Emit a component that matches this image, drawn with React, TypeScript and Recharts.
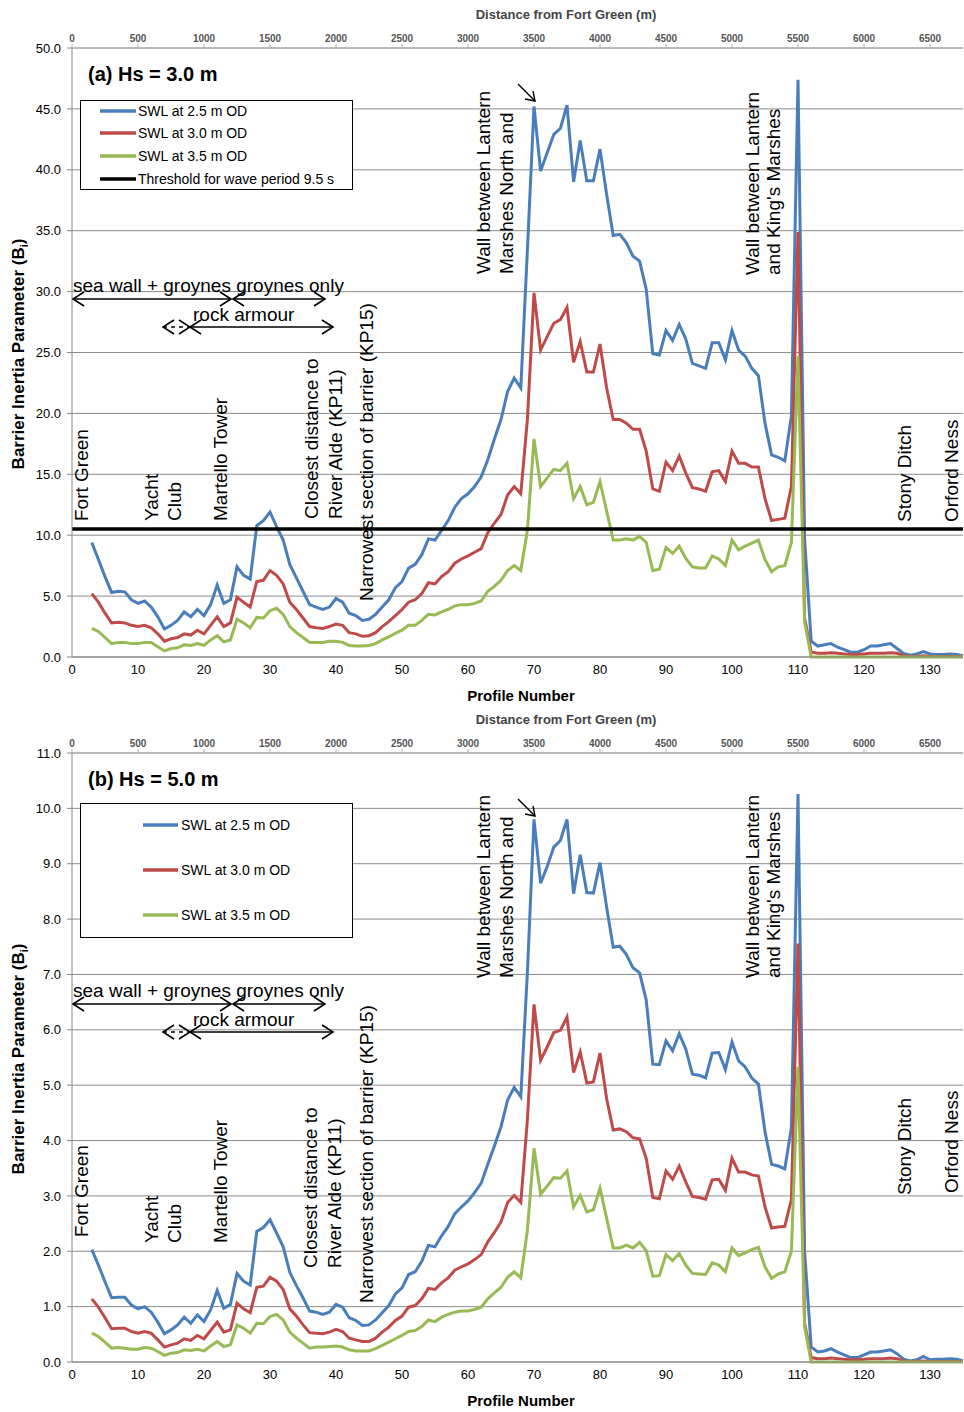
import React from "react";
import {
  LineChart,
  Line,
  XAxis,
  YAxis,
  CartesianGrid,
  ReferenceLine,
  Legend,
} from "recharts";

const FONT = '"Liberation Sans", Arial, Helvetica, sans-serif';

// profile numbers 3..135 along the frontage
const profiles = Array.from({ length: 133 }, (_, i) => i + 3);

const xTicks = [0, 10, 20, 30, 40, 50, 60, 70, 80, 90, 100, 110, 120, 130];
const yTicksA = [0, 5, 10, 15, 20, 25, 30, 35, 40, 45, 50];
const yTicksB = [0, 1, 2, 3, 4, 5, 6, 7, 8, 9, 10, 11];

const seriesNames = ["SWL at 2.5 m OD", "SWL at 3.0 m OD", "SWL at 3.5 m OD"];
const seriesColors = ["#4a7ebb", "#be4b48", "#98b954"];
const thresholdName = "Threshold for wave period 9.5 s";
const thresholdA = 10.5;

// (a) Hs = 3.0 m
const hs3Swl25 = [
  9.4, 8.0, 6.6, 5.3, 5.4, 5.35, 4.7, 4.4, 4.6, 4.1,
  3.3, 2.3, 2.6, 3.0, 3.7, 3.3, 3.9, 3.4, 4.3, 5.9,
  4.4, 4.7, 7.4, 6.7, 6.4, 10.8, 11.2, 11.9, 10.7, 9.6,
  7.6, 6.5, 5.4, 4.3, 4.1, 3.9, 4.1, 4.8, 4.5, 3.6,
  3.4, 3.0, 3.1, 3.5, 4.1, 4.7, 5.7, 6.2, 7.3, 7.6,
  8.4, 9.7, 9.6, 10.4, 11.2, 12.3, 13.0, 13.4, 14.0, 14.8,
  16.2, 17.9, 19.5, 21.8, 22.9, 22.1, 33.4, 45.2, 39.9, 41.4,
  42.9, 43.4, 45.3, 39.0, 42.4, 39.1, 39.1, 41.7, 38.0, 34.6,
  34.7, 34.0, 32.9, 32.5, 30.2, 24.9, 24.8, 26.8, 26.0, 27.3,
  26.1, 24.1, 23.9, 23.7, 25.8, 25.8, 24.4, 26.8, 25.2, 24.7,
  23.7, 23.1, 19.2, 16.6, 16.4, 16.1, 19.8, 47.4, 9.7, 1.3,
  0.9, 1.0, 1.1, 0.8, 0.6, 0.4, 0.4, 0.6, 0.9, 0.9,
  1.0, 1.1, 0.7, 0.3, 0.15, 0.25, 0.45, 0.25, 0.2, 0.2,
  0.25, 0.2, 0.1,
];
const hs3Swl30 = [
  5.2, 4.5, 3.6, 2.8, 2.85, 2.8, 2.6, 2.5, 2.6, 2.4,
  1.9, 1.3, 1.5, 1.6, 1.9, 1.8, 2.2, 1.9, 2.6, 3.3,
  2.5, 2.8, 4.9, 4.5, 4.1, 6.2, 6.3, 7.1, 6.7, 6.0,
  4.5, 3.9, 3.2, 2.5, 2.4, 2.35, 2.5, 2.7, 2.6, 2.0,
  1.9, 1.7, 1.75, 2.0, 2.5, 2.9, 3.4, 3.9, 4.5, 4.7,
  5.2, 6.1, 6.0, 6.6, 7.0, 7.7, 8.05, 8.3, 8.6, 8.9,
  10.2, 11.0, 11.7, 13.3, 14.0, 13.4, 19.5, 29.9, 25.2, 26.3,
  27.4, 27.7, 28.7, 24.2, 25.9, 23.4, 23.4, 25.7, 22.1, 19.5,
  19.5, 19.2, 18.7, 18.7, 16.9, 13.8, 13.6, 16.0, 15.3, 16.5,
  15.1, 13.9, 13.8, 13.6, 15.2, 15.3, 14.4, 16.9, 15.9, 15.9,
  15.6, 15.6, 13.0, 11.2, 11.3, 11.4, 14.0, 34.9, 3.2, 0.4,
  0.3, 0.3, 0.35, 0.3, 0.25, 0.2, 0.2, 0.25, 0.3, 0.3,
  0.3, 0.35, 0.3, 0.1, 0.05, 0.05, 0.1, 0.05, 0.05, 0.05,
  0.05, 0.05, 0.03,
];
const hs3Swl35 = [
  2.35, 2.1, 1.6, 1.1, 1.2, 1.2, 1.1, 1.1, 1.2, 1.2,
  0.85, 0.5, 0.7, 0.75, 1.0, 0.95, 1.1, 0.95, 1.4, 1.75,
  1.25, 1.4, 3.1, 2.8, 2.4, 3.25, 3.2, 3.8, 4.0, 3.5,
  2.5, 2.0, 1.6, 1.2, 1.2, 1.2, 1.3, 1.3, 1.2, 0.95,
  0.9, 0.9, 0.95, 1.1, 1.4, 1.65, 1.95, 2.2, 2.6, 2.6,
  3.0, 3.5, 3.45, 3.7, 3.9, 4.2, 4.3, 4.3, 4.4, 4.6,
  5.4, 5.8, 6.3, 7.1, 7.5, 7.1, 10.4, 17.9, 14.0, 14.7,
  15.4, 15.3, 15.9, 13.0, 14.0, 12.5, 12.7, 14.4, 12.0, 9.6,
  9.6, 9.7, 9.6, 9.9, 9.4, 7.1, 7.2, 9.0, 8.5, 9.1,
  8.1, 7.4, 7.3, 7.3, 8.3, 8.05, 7.5, 9.6, 8.8, 9.1,
  9.35, 9.6, 8.0, 7.0, 7.4, 7.5, 9.4, 24.7, 2.9, 0,
  0, 0, 0, 0, 0, 0, 0, 0, 0, 0,
  0, 0, 0, 0, 0, 0, 0, 0, 0, 0,
  0, 0, 0,
];

// (b) Hs = 5.0 m
const hs5Swl25 = [
  2.03, 1.75, 1.45, 1.16, 1.17, 1.17, 1.03, 0.96, 1.0, 0.9,
  0.72, 0.51, 0.58, 0.67, 0.81, 0.7, 0.85, 0.73, 0.94, 1.29,
  0.97, 1.04, 1.6, 1.46, 1.39, 2.36, 2.43, 2.57, 2.33, 2.08,
  1.62, 1.38, 1.16, 0.92, 0.9, 0.86, 0.9, 1.04, 0.99, 0.8,
  0.75, 0.66, 0.67, 0.76, 0.89, 1.02, 1.23, 1.34, 1.58, 1.63,
  1.82, 2.11, 2.08, 2.28, 2.45, 2.68, 2.8, 2.91, 3.06, 3.23,
  3.57, 3.9, 4.25, 4.73, 4.96, 4.79, 7.04, 9.8, 8.65, 8.95,
  9.3, 9.42, 9.8, 8.46, 9.16, 8.48, 8.47, 9.02, 8.22, 7.49,
  7.51, 7.36, 7.12, 7.03, 6.54, 5.38, 5.37, 5.8, 5.62, 5.93,
  5.65, 5.2, 5.18, 5.13, 5.58, 5.59, 5.28, 5.78, 5.44, 5.33,
  5.13, 5.02, 4.16, 3.57, 3.54, 3.49, 4.23, 10.26, 2.0, 0.27,
  0.18, 0.2, 0.24, 0.18, 0.13, 0.08, 0.08, 0.13, 0.18, 0.18,
  0.2, 0.22, 0.15, 0.05, 0.02, 0.04, 0.1, 0.04, 0.05, 0.05,
  0.06, 0.05, 0.02,
];
const hs5Swl30 = [
  1.14, 0.99, 0.8, 0.6, 0.61, 0.61, 0.55, 0.52, 0.55, 0.52,
  0.4, 0.27, 0.31, 0.34, 0.42, 0.39, 0.48, 0.42, 0.57, 0.72,
  0.54, 0.58, 1.06, 0.96, 0.89, 1.35, 1.37, 1.53, 1.46, 1.31,
  0.96, 0.83, 0.67, 0.53, 0.52, 0.51, 0.54, 0.59, 0.55, 0.43,
  0.4, 0.37, 0.37, 0.43, 0.54, 0.63, 0.75, 0.83, 0.99, 1.02,
  1.14, 1.33, 1.31, 1.43, 1.52, 1.66, 1.72, 1.77, 1.85, 1.94,
  2.17, 2.34, 2.53, 2.88, 3.01, 2.88, 4.38, 6.46, 5.45, 5.69,
  5.95, 5.99, 6.23, 5.23, 5.6, 5.04, 5.06, 5.58, 4.76, 4.19,
  4.21, 4.16, 4.05, 4.03, 3.68, 2.97, 2.95, 3.45, 3.3, 3.54,
  3.25, 2.99, 2.97, 2.94, 3.29, 3.3, 3.1, 3.68, 3.43, 3.43,
  3.38, 3.36, 2.8, 2.42, 2.44, 2.45, 2.94, 7.56, 0.7, 0.08,
  0.06, 0.06, 0.07, 0.06, 0.05, 0.04, 0.04, 0.05, 0.06, 0.06,
  0.06, 0.07, 0.06, 0.02, 0.01, 0.01, 0.02, 0.01, 0.01, 0.01,
  0.01, 0.01, 0.01,
];
const hs5Swl35 = [
  0.52, 0.46, 0.36, 0.25, 0.26, 0.25, 0.23, 0.23, 0.26, 0.25,
  0.19, 0.12, 0.16, 0.17, 0.22, 0.21, 0.23, 0.2, 0.29, 0.37,
  0.28, 0.31, 0.67, 0.61, 0.52, 0.7, 0.69, 0.82, 0.86, 0.76,
  0.54, 0.43, 0.34, 0.25, 0.27, 0.27, 0.28, 0.29, 0.27, 0.22,
  0.2, 0.2, 0.2, 0.24, 0.3, 0.36, 0.42, 0.48, 0.55, 0.57,
  0.64, 0.76, 0.73, 0.81, 0.86, 0.9, 0.92, 0.92, 0.95, 0.99,
  1.14, 1.25, 1.35, 1.53, 1.63, 1.52, 2.38, 3.86, 3.03, 3.18,
  3.33, 3.32, 3.45, 2.8, 3.01, 2.71, 2.75, 3.14, 2.6, 2.06,
  2.06, 2.11, 2.06, 2.16, 2.01, 1.55, 1.56, 1.94, 1.83, 1.96,
  1.75, 1.6, 1.59, 1.58, 1.79, 1.75, 1.63, 2.06, 1.92, 1.97,
  2.03, 2.07, 1.72, 1.51, 1.59, 1.63, 2.0, 5.33, 0.64, 0,
  0, 0, 0, 0, 0, 0, 0, 0, 0, 0,
  0, 0, 0, 0, 0, 0, 0, 0, 0, 0,
  0, 0, 0,
];

const keys = ["swl25", "swl30", "swl35"];

function buildRows(s25: number[], s30: number[], s35: number[]) {
  return profiles.map((p, i) => ({ p, swl25: s25[i], swl30: s30[i], swl35: s35[i] }));
}

const dataA = buildRows(hs3Swl25, hs3Swl30, hs3Swl35);
const dataB = buildRows(hs5Swl25, hs5Swl30, hs5Swl35);

type Note = { x: number; y: number; t: string };

const notesA: Note[] = [
  { x: 88, y: 521, t: "Fort Green" },
  { x: 158, y: 521, t: "Yacht" },
  { x: 181, y: 521, t: "Club" },
  { x: 227, y: 521, t: "Martello Tower" },
  { x: 318, y: 519, t: "Closest distance to" },
  { x: 342, y: 519, t: "River Alde (KP11)" },
  { x: 373, y: 601, t: "Narrowest section of barrier (KP15)" },
  { x: 490, y: 274, t: "Wall between Lantern" },
  { x: 513, y: 274, t: "Marshes North and" },
  { x: 759, y: 275, t: "Wall between Lantern" },
  { x: 780, y: 275, t: "and King's Marshes" },
  { x: 911, y: 522, t: "Stony Ditch" },
  { x: 958, y: 522, t: "Orford Ness" },
];

const notesB: Note[] = [
  { x: 88, y: 532, t: "Fort Green" },
  { x: 158, y: 538, t: "Yacht" },
  { x: 181, y: 538, t: "Club" },
  { x: 227, y: 538, t: "Martello Tower" },
  { x: 317, y: 563, t: "Closest distance to" },
  { x: 341, y: 563, t: "River Alde (KP11)" },
  { x: 373, y: 598, t: "Narrowest section of barrier (KP15)" },
  { x: 490, y: 273, t: "Wall between Lantern" },
  { x: 513, y: 273, t: "Marshes North and" },
  { x: 759, y: 273, t: "Wall between Lantern" },
  { x: 780, y: 273, t: "and King's Marshes" },
  { x: 911, y: 490, t: "Stony Ditch" },
  { x: 958, y: 488, t: "Orford Ness" },
];

type LegendRow = { name: string; color: string; y: number };
type LegendBoxCfg = {
  left: number;
  top: number;
  w: number;
  h: number;
  x1: number;
  x2: number;
  tx: number;
  rows: LegendRow[];
};

const legendA: LegendBoxCfg = {
  left: 80, top: 100, w: 273, h: 90, x1: 20, x2: 56, tx: 58,
  rows: [
    { name: seriesNames[0], color: seriesColors[0], y: 11 },
    { name: seriesNames[1], color: seriesColors[1], y: 33 },
    { name: seriesNames[2], color: seriesColors[2], y: 56 },
    { name: thresholdName, color: "#000", y: 79 },
  ],
};

const legendB: LegendBoxCfg = {
  left: 80, top: 98, w: 273, h: 135, x1: 63, x2: 98, tx: 101,
  rows: [
    { name: seriesNames[0], color: seriesColors[0], y: 22 },
    { name: seriesNames[1], color: seriesColors[1], y: 67 },
    { name: seriesNames[2], color: seriesColors[2], y: 112 },
  ],
};

function LegendBox({ cfg }: { cfg: LegendBoxCfg }) {
  return (
    <svg width={cfg.w} height={cfg.h} style={{ display: "block", fontFamily: FONT }}>
      <rect x={0.5} y={0.5} width={cfg.w - 1} height={cfg.h - 1} fill="#fff" stroke="#000" />
      {cfg.rows.map((r) => (
        <g key={r.name}>
          <line x1={cfg.x1} x2={cfg.x2} y1={r.y} y2={r.y} stroke={r.color} strokeWidth={3.5} />
          <text x={cfg.tx} y={r.y + 5} fontSize={14} fill="#000">
            {r.name}
          </text>
        </g>
      ))}
    </svg>
  );
}

function Chevron({ x, y, dir }: { x: number; y: number; dir: number }) {
  return (
    <polyline
      points={`${x - dir * 11},${y - 7} ${x},${y} ${x - dir * 11},${y + 7}`}
      fill="none"
      stroke="#000"
      strokeWidth={1.6}
    />
  );
}

function DoubleArrow({ x1, x2, y, dashed }: { x1: number; x2: number; y: number; dashed?: boolean }) {
  return (
    <g>
      <line x1={x1} x2={x2} y1={y} y2={y} stroke="#000" strokeWidth={1.6} strokeDasharray={dashed ? "4 4" : undefined} />
      <Chevron x={x1} y={y} dir={-1} />
      <Chevron x={x2} y={y} dir={1} />
    </g>
  );
}

function Overlay({ title, notes, arrowY }: { title: string; notes: Note[]; arrowY: number }) {
  return (
    <svg
      width={964}
      height={704}
      style={{ position: "absolute", left: 0, top: 0, pointerEvents: "none", fontFamily: FONT }}
    >
      <text x={566} y={19} textAnchor="middle" fontSize={13} fontWeight="bold" fill="#444">
        Distance from Fort Green (m)
      </text>
      <text x={88} y={81} fontSize={20} fontWeight="bold" fill="#000">
        {title}
      </text>
      <text transform="translate(24,354) rotate(-90)" textAnchor="middle" fontSize={17} fontWeight="bold" fill="#000">
        Barrier Inertia Parameter (B
        <tspan dy={4} fontSize={11}>i</tspan>
        <tspan dy={-4}>)</tspan>
      </text>
      <text x={521} y={701} textAnchor="middle" fontSize={15} fontWeight="bold" fill="#000">
        Profile Number
      </text>

      <text x={73} y={292} fontSize={19} fill="#000">
        sea wall + groynes groynes only
      </text>
      <DoubleArrow x1={73} x2={231} y={299} />
      <DoubleArrow x1={233} x2={325} y={299} />
      <text x={193} y={321} fontSize={19} fill="#000">
        rock armour
      </text>
      <DoubleArrow x1={163} x2={190} y={327} dashed />
      <DoubleArrow x1={190} x2={333} y={327} />

      {notes.map((n, i) => (
        <text key={i} transform={`translate(${n.x},${n.y}) rotate(-90)`} fontSize={19} fill="#000">
          {n.t}
        </text>
      ))}

      <line x1={518} y1={arrowY} x2={535} y2={arrowY + 17} stroke="#000" strokeWidth={1.4} />
      <polyline
        points={`${533},${arrowY + 7} ${535},${arrowY + 17} ${525},${arrowY + 15}`}
        fill="none"
        stroke="#000"
        strokeWidth={1.4}
      />
    </svg>
  );
}

type PanelProps = {
  top: number;
  data: typeof dataA;
  yMax: number;
  yTicks: number[];
  title: string;
  threshold?: number;
  legend: LegendBoxCfg;
  notes: Note[];
  arrowY: number;
};

function Panel({ top, data, yMax, yTicks, title, threshold, legend, notes, arrowY }: PanelProps) {
  return (
    <div style={{ position: "absolute", left: 0, top, width: 964, height: 704 }}>
      <LineChart width={964} height={704} data={data} margin={{ top: 0, right: 1, bottom: 0, left: 0 }}>
        <CartesianGrid vertical={false} stroke="#8c8c8c" />
        <XAxis
          dataKey="p"
          type="number"
          domain={[0, 135]}
          allowDataOverflow
          ticks={xTicks}
          height={47}
          tickLine={false}
          axisLine={{ stroke: "#868686" }}
          tick={{ fontSize: 13, fill: "#000" }}
        />
        <XAxis
          xAxisId="top"
          orientation="top"
          type="number"
          dataKey="p"
          domain={[0, 135]}
          allowDataOverflow
          ticks={xTicks}
          height={48}
          tickSize={4}
          tickLine={{ stroke: "#b0b0b0" }}
          axisLine={{ stroke: "#b0b0b0" }}
          tickFormatter={(v: number) => String(v * 50)}
          tick={{ fontSize: 10, fill: "#555", fontWeight: "bold" }}
        />
        <YAxis
          type="number"
          domain={[0, yMax]}
          ticks={yTicks}
          width={72}
          tickSize={5}
          tickMargin={6}
          tickLine={{ stroke: "#868686" }}
          axisLine={{ stroke: "#868686" }}
          tickFormatter={(v: number) => v.toFixed(1)}
          tick={{ fontSize: 13, fill: "#000" }}
        />
        <Legend
          layout="vertical"
          verticalAlign="middle"
          align="center"
          content={() => <LegendBox cfg={legend} />}
          wrapperStyle={{ left: legend.left, top: legend.top, width: legend.w, height: legend.h }}
        />
        {keys.map((k, i) => (
          <Line
            key={k}
            type="linear"
            dataKey={k}
            name={seriesNames[i]}
            stroke={seriesColors[i]}
            strokeWidth={3}
            dot={false}
            isAnimationActive={false}
          />
        ))}
        {threshold !== undefined && (
          <ReferenceLine y={threshold} stroke="#000" strokeWidth={3.5} ifOverflow="extendDomain" />
        )}
      </LineChart>
      <Overlay title={title} notes={notes} arrowY={arrowY} />
    </div>
  );
}

export default function App() {
  return (
    <div
      style={{
        position: "absolute",
        left: 0,
        top: 0,
        width: 964,
        height: 1412,
        background: "#fff",
        fontFamily: FONT,
        overflow: "hidden",
      }}
    >
      <Panel
        top={0}
        data={dataA}
        yMax={50}
        yTicks={yTicksA}
        title="(a) Hs = 3.0 m"
        threshold={thresholdA}
        legend={legendA}
        notes={notesA}
        arrowY={84}
      />
      <Panel
        top={705}
        data={dataB}
        yMax={11}
        yTicks={yTicksB}
        title="(b) Hs = 5.0 m"
        legend={legendB}
        notes={notesB}
        arrowY={94}
      />
    </div>
  );
}
